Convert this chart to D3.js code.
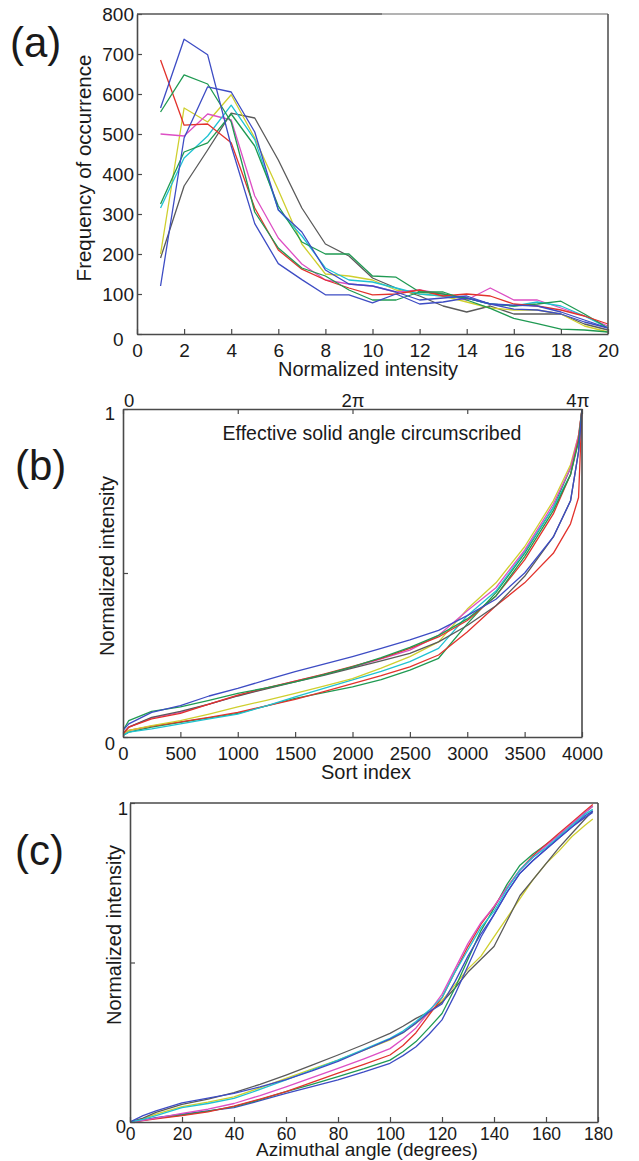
<!DOCTYPE html>
<html><head><meta charset="utf-8">
<script src="https://cdn.jsdelivr.net/npm/d3@7"></script>
<style>
body{margin:0;background:#fff}
text{font-family:"Liberation Sans",Arial,Helvetica,sans-serif;fill:#1a1a1a}
</style>
</head><body>
<svg id="fig" width="639" height="1161"></svg>
<script>
// ---------- Panel (a) data: frequency of occurrence vs normalized intensity ----------
const aX = d3.range(1, 21);
const aBlue1  = [565,737,698,470,276,176,136,98,98,78,100,75,80,90,75,62,60,50,30,15];
const aBlue2  = [120,490,618,605,505,310,255,160,125,120,105,85,90,95,75,72,70,55,35,15];
const aRed    = [685,522,525,478,315,210,162,135,115,98,100,110,95,100,95,75,70,60,45,25];
const aGreen1 = [555,648,625,530,305,215,165,145,110,85,85,105,105,85,64,39,26,12,10,5];
const aGreen2 = [325,455,478,550,470,320,230,200,200,145,142,105,100,90,75,70,75,82,50,15];
const aCyan   = [315,440,495,572,486,311,245,165,135,130,115,100,95,90,75,70,80,70,45,15];
const aMag    = [500,495,550,535,345,240,175,135,125,120,105,110,100,85,115,85,85,65,45,20];
const aYellow = [200,565,530,598,490,360,225,150,145,135,110,100,95,80,65,60,60,50,20,5];
const aGray   = [190,370,460,552,540,435,315,225,195,140,115,95,70,55,70,50,50,50,25,10];
const aTicksX = d3.range(0, 21, 2);
const aTicksY = d3.range(0, 801, 100);

// ---------- Panel (b) data: normalized intensity vs sort index ----------
const bX = [0,50,250,500,750,1000,1250,1500,1750,2000,2250,2500,2750,3000,3250,3500,3750,3900,3970,4000];
const bBlue   = [0.02,0.04,0.075,0.096,0.125,0.148,0.174,0.199,0.222,0.245,0.27,0.296,0.325,0.37,0.42,0.50,0.61,0.72,0.87,1.0];
const bGreen1 = [0.02,0.05,0.078,0.092,0.112,0.133,0.15,0.168,0.19,0.214,0.242,0.273,0.31,0.36,0.43,0.55,0.69,0.80,0.90,1.0];
const bRed1   = [0.01,0.03,0.055,0.072,0.10,0.128,0.15,0.17,0.192,0.215,0.24,0.27,0.305,0.355,0.43,0.54,0.68,0.80,0.91,1.0];
const bGray   = [0.01,0.03,0.06,0.078,0.10,0.125,0.147,0.168,0.188,0.21,0.232,0.255,0.29,0.34,0.40,0.49,0.61,0.72,0.87,1.0];
const bMag    = [0.01,0.03,0.058,0.075,0.10,0.126,0.148,0.17,0.19,0.212,0.238,0.265,0.31,0.385,0.455,0.57,0.71,0.82,0.92,1.0];
const bYellow = [0.01,0.02,0.035,0.05,0.07,0.092,0.112,0.133,0.155,0.178,0.21,0.245,0.29,0.39,0.47,0.58,0.72,0.83,0.92,1.0];
const bCyan   = [0.005,0.015,0.025,0.04,0.055,0.07,0.095,0.122,0.148,0.174,0.2,0.23,0.27,0.37,0.445,0.565,0.70,0.80,0.91,1.0];
const bRed2   = [0.01,0.02,0.033,0.046,0.06,0.075,0.095,0.115,0.138,0.163,0.187,0.214,0.25,0.32,0.40,0.47,0.56,0.65,0.73,1.0];
const bGreen2 = [0.005,0.015,0.03,0.045,0.058,0.072,0.095,0.118,0.135,0.153,0.175,0.204,0.24,0.345,0.44,0.56,0.70,0.82,0.91,1.0];
const bTicksX = d3.range(0, 4001, 500);
const bTicksY = [0, 0.5, 1];
const bTickLabelsY = ["0", "", "1"];
const bTopTicks = [0, 1, 2, 3, 4];            // multiples of pi
const bTopLabels = ["0", "", "2\u03c0", "", "4\u03c0"];

// ---------- Panel (c) data: normalized intensity vs azimuthal angle ----------
const cX = [0,5,10,20,30,40,50,60,70,80,90,100,105,110,115,120,125,130,135,140,145,150,155,160,165,170,175,178];
const cGray   = [0,0.012,0.03,0.055,0.072,0.092,0.118,0.147,0.178,0.21,0.243,0.278,0.30,0.325,0.345,0.375,0.42,0.47,0.51,0.55,0.63,0.71,0.76,0.81,0.86,0.905,0.95,0.975];
const cYellow = [0,0.01,0.025,0.048,0.062,0.079,0.107,0.137,0.166,0.194,0.225,0.257,0.28,0.31,0.34,0.38,0.43,0.48,0.52,0.58,0.64,0.70,0.76,0.81,0.85,0.895,0.93,0.95];
const cCyan   = [0,0.008,0.02,0.045,0.058,0.074,0.102,0.132,0.163,0.194,0.228,0.262,0.285,0.315,0.35,0.39,0.47,0.54,0.61,0.66,0.73,0.79,0.83,0.86,0.895,0.93,0.965,0.98];
const cBlue1  = [0,0.02,0.035,0.06,0.075,0.09,0.11,0.133,0.16,0.19,0.225,0.26,0.28,0.31,0.345,0.37,0.44,0.52,0.59,0.65,0.72,0.78,0.82,0.855,0.89,0.925,0.96,0.975];
const cMag    = [0,0.005,0.012,0.027,0.04,0.058,0.083,0.11,0.139,0.168,0.198,0.23,0.26,0.295,0.345,0.40,0.48,0.56,0.625,0.675,0.735,0.79,0.83,0.865,0.90,0.935,0.97,0.99];
const cRed    = [0,0.004,0.01,0.02,0.032,0.05,0.072,0.095,0.124,0.153,0.181,0.21,0.24,0.28,0.335,0.39,0.47,0.55,0.62,0.675,0.735,0.79,0.835,0.87,0.905,0.94,0.975,0.995];
const cGreen  = [0,0.005,0.012,0.022,0.034,0.048,0.07,0.095,0.118,0.142,0.167,0.194,0.22,0.252,0.295,0.34,0.42,0.51,0.60,0.67,0.745,0.805,0.84,0.87,0.90,0.935,0.97,0.99];
const cBlue2  = [0,0.006,0.014,0.025,0.035,0.045,0.067,0.09,0.111,0.132,0.157,0.184,0.208,0.236,0.275,0.32,0.40,0.49,0.58,0.65,0.72,0.78,0.82,0.855,0.89,0.925,0.955,0.97];
const cTicksX = d3.range(0, 181, 20);
const cTicksY = [0, 0.5, 1];
const cTickLabelsY = ["0", "", "1"];

// ---------- colours ----------
const COL = {blue:"#3d4cc4", green:"#1f9a52", red:"#e2322c", cyan:"#1fc2d2",
             mag:"#dd4fc4", yellow:"#cfcf2e", gray:"#5a5a5a"};
const AXC = "#4a4a4a";
const plain = d3.format("d");

const svg = d3.select("#fig");

function drawLines(g, xs, seriesList, x, y, clipId, x0, y0, w, h) {
  svg.append("clipPath").attr("id", clipId).append("rect")
    .attr("x", x0).attr("y", y0 - 2).attr("width", w + 1).attr("height", h + 3);
  const line = d3.line().x(d => x(d[0])).y(d => y(d[1]));
  const lg = g.append("g").attr("clip-path", `url(#${clipId})`);
  seriesList.forEach(s => {
    lg.append("path")
      .datum(xs.map((v, i) => [v, s.v[i]]))
      .attr("d", line).attr("fill", "none")
      .attr("stroke", s.c).attr("stroke-width", 1.3)
      .attr("stroke-linejoin", "round");
  });
}
function styleAxis(g, fs) {
  g.selectAll(".domain").attr("stroke", AXC).attr("stroke-width", 1.6);
  g.selectAll(".tick line").attr("stroke", AXC).attr("stroke-width", 1.2);
  g.selectAll(".tick text").attr("font-size", fs).attr("fill", "#1a1a1a")
    .attr("font-family", '"Liberation Sans",Arial,sans-serif');
}
function frameLine(x1, y1, x2, y2, c) {
  svg.append("line").attr("x1", x1).attr("y1", y1).attr("x2", x2).attr("y2", y2)
    .attr("stroke", c || AXC).attr("stroke-width", 1.6);
}

// ================= Panel (a) =================
{
  const L = 137, R = 608, T = 14, B = 334;
  const x = d3.scaleLinear([0, 20], [L, R]);
  const y = d3.scaleLinear([0, 800], [B, T]);
  const g = svg.append("g");
  drawLines(g, aX, [
    {v: aGray, c: COL.gray}, {v: aYellow, c: COL.yellow}, {v: aMag, c: COL.mag},
    {v: aCyan, c: COL.cyan}, {v: aGreen2, c: COL.green}, {v: aRed, c: COL.red},
    {v: aGreen1, c: COL.green}, {v: aBlue2, c: COL.blue}, {v: aBlue1, c: COL.blue}
  ], x, y, "clipA", L, T, R - L, B - T);
  frameLine(L, T, 382, T, "#555");
  frameLine(382, T, R, T, "#9a9a9a");
  frameLine(R, T, R, B, "#555");
  const gx = g.append("g").attr("transform", `translate(0,${B})`)
    .call(d3.axisBottom(x).tickValues(aTicksX).tickSize(-5).tickSizeOuter(0).tickPadding(10).tickFormat(plain));
  styleAxis(gx, 19);
  const gy = g.append("g").attr("transform", `translate(${L},0)`)
    .call(d3.axisLeft(y).tickValues(aTicksY).tickSize(-5).tickSizeOuter(0).tickPadding(3).tickFormat(plain));
  styleAxis(gy, 19);
  gy.selectAll(".tick text").filter(d => d === 0).attr("dx", "-0.55em").attr("dy", "0.6em");
  g.append("text").attr("x", 368).attr("y", 376).attr("text-anchor", "middle")
    .attr("font-size", 20).text("Normalized intensity");
  g.append("text").attr("transform", "translate(91,168) rotate(-90)")
    .attr("text-anchor", "middle").attr("font-size", 20.5).text("Frequency of occurrence");
  svg.append("text").attr("x", 10).attr("y", 57).attr("font-size", 42).text("(a)");
}

// ================= Panel (b) =================
{
  const L = 123, R = 582, T = 409, B = 737;
  const x = d3.scaleLinear([0, 4000], [L, R]);
  const y = d3.scaleLinear([0, 1], [B, T]);
  const xTop = d3.scaleLinear([0, 4], [L, R]);
  const g = svg.append("g");
  drawLines(g, bX, [
    {v: bGreen2, c: COL.green}, {v: bRed2, c: COL.red}, {v: bCyan, c: COL.cyan},
    {v: bYellow, c: COL.yellow}, {v: bMag, c: COL.mag}, {v: bGray, c: COL.gray},
    {v: bRed1, c: COL.red}, {v: bGreen1, c: COL.green}, {v: bBlue, c: COL.blue}
  ], x, y, "clipB", L, T, R - L, B - T);
  frameLine(R, T, R, B);
  const gx = g.append("g").attr("transform", `translate(0,${B})`)
    .call(d3.axisBottom(x).tickValues(bTicksX).tickSize(-5).tickSizeOuter(0).tickPadding(10).tickFormat(plain));
  styleAxis(gx, 18.5);
  const gt = g.append("g").attr("transform", `translate(0,${T})`)
    .call(d3.axisTop(xTop).tickValues(bTopTicks).tickSize(-5).tickSizeOuter(0).tickPadding(2)
      .tickFormat((d, i) => bTopLabels[i]));
  styleAxis(gt, 18.5);
  gt.selectAll(".tick text").filter(d => d === 0).attr("dx", "0.3em");
  gt.selectAll(".tick text").filter(d => d === 4).attr("dx", "-0.25em");
  const gy = g.append("g").attr("transform", `translate(${L},0)`)
    .call(d3.axisLeft(y).tickValues(bTicksY).tickSize(-5).tickSizeOuter(0).tickPadding(8)
      .tickFormat((d, i) => bTickLabelsY[i]));
  styleAxis(gy, 18.5);
  gy.selectAll(".tick text").filter(d => d === 0).attr("dy", "0.65em");
  gy.selectAll(".tick text").filter(d => d === 1).attr("dy", "0.55em");
  g.append("text").attr("x", 372).attr("y", 440).attr("text-anchor", "middle")
    .attr("font-size", 19.5).text("Effective solid angle circumscribed");
  g.append("text").attr("x", 366).attr("y", 779).attr("text-anchor", "middle")
    .attr("font-size", 20).text("Sort index");
  g.append("text").attr("transform", "translate(114,566) rotate(-90)")
    .attr("text-anchor", "middle").attr("font-size", 20).text("Normalized intensity");
  svg.append("text").attr("x", 15).attr("y", 480).attr("font-size", 42).text("(b)");
}

// ================= Panel (c) =================
{
  const L = 130, R = 598, T = 803, B = 1122;
  const x = d3.scaleLinear([0, 180], [L, R]);
  const y = d3.scaleLinear([0, 1], [B, T]);
  const g = svg.append("g");
  drawLines(g, cX, [
    {v: cYellow, c: COL.yellow}, {v: cGray, c: COL.gray}, {v: cBlue2, c: COL.blue},
    {v: cGreen, c: COL.green}, {v: cRed, c: COL.red}, {v: cMag, c: COL.mag},
    {v: cCyan, c: COL.cyan}, {v: cBlue1, c: COL.blue}
  ], x, y, "clipC", L, T, R - L, B - T);
  frameLine(L, T, R, T);
  frameLine(R, T, R, B);
  const gx = g.append("g").attr("transform", `translate(0,${B})`)
    .call(d3.axisBottom(x).tickValues(cTicksX).tickSize(-5).tickSizeOuter(0).tickPadding(6).tickFormat(plain));
  styleAxis(gx, 17.5);
  const gy = g.append("g").attr("transform", `translate(${L},0)`)
    .call(d3.axisLeft(y).tickValues(cTicksY).tickSize(-5).tickSizeOuter(0).tickPadding(2)
      .tickFormat((d, i) => cTickLabelsY[i]));
  styleAxis(gy, 18.5);
  gy.selectAll(".tick text").filter(d => d === 0).attr("dx", "-0.1em").attr("dy", "0.55em");
  gy.selectAll(".tick text").filter(d => d === 1).attr("dy", "0.6em");
  g.append("text").attr("x", 367).attr("y", 1156).attr("text-anchor", "middle")
    .attr("font-size", 19).text("Azimuthal angle (degrees)");
  g.append("text").attr("transform", "translate(121,935) rotate(-90)")
    .attr("text-anchor", "middle").attr("font-size", 20).text("Normalized intensity");
  svg.append("text").attr("x", 15).attr("y", 865).attr("font-size", 42).text("(c)");
}
</script>
</body></html>
